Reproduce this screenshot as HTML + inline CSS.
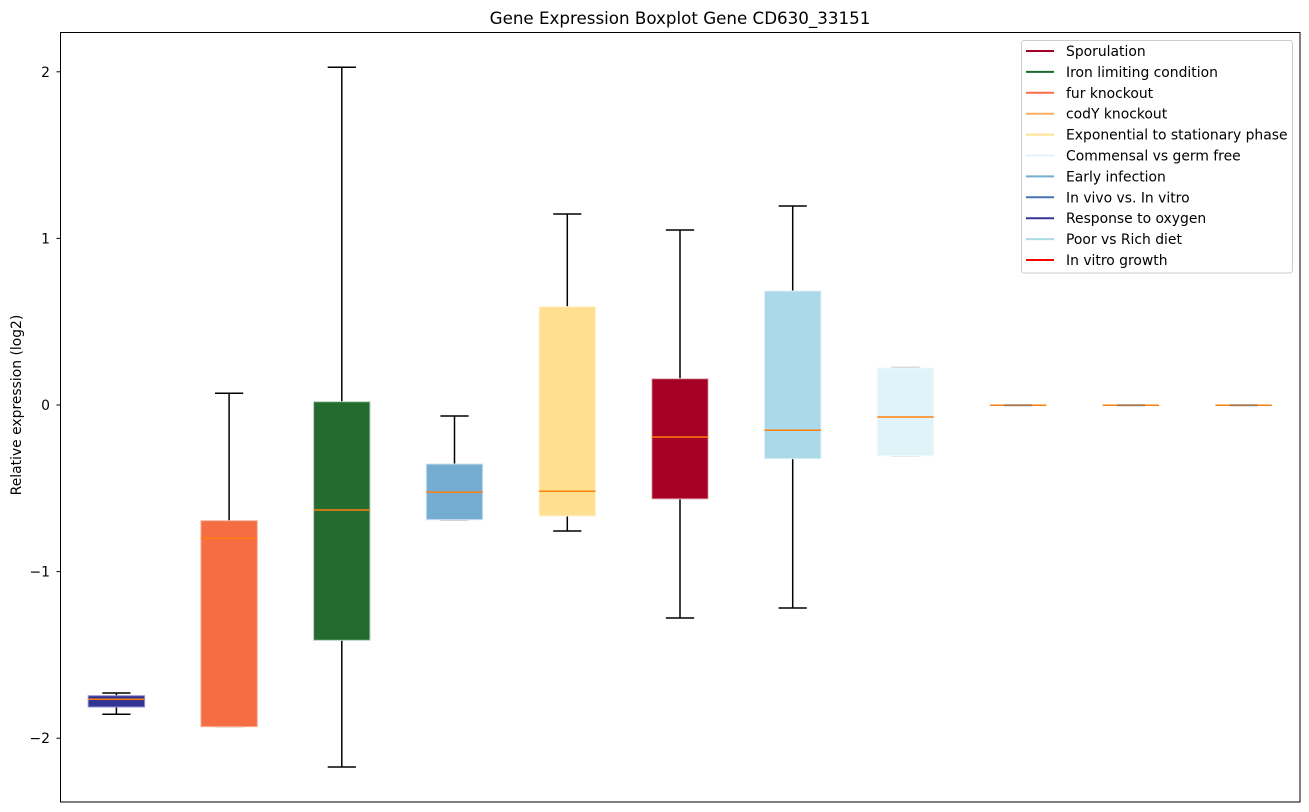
<!DOCTYPE html>
<html><head><meta charset="utf-8"><style>
html,body{margin:0;padding:0;background:#fff;}
svg{display:block;}
text{font-family:"DejaVu Sans","Liberation Sans",sans-serif;fill:#000;}
</style></head><body>
<svg width="1309" height="812" viewBox="0 0 1309 812" xmlns="http://www.w3.org/2000/svg">
<rect width="1309" height="812" fill="#fff"/>
<text x="680" y="24" font-size="16.7" text-anchor="middle">Gene Expression Boxplot Gene CD630_33151</text>

<!-- whiskers (black) -->
<g stroke="#000" stroke-width="1.5" fill="none">
 <!-- box1 -->
 <line x1="116.4" y1="693" x2="116.4" y2="695.7"/><line x1="116.4" y1="707" x2="116.4" y2="714.3"/>
 <line x1="102.3" y1="693" x2="130.5" y2="693"/><line x1="102.3" y1="714.3" x2="130.5" y2="714.3"/>
 <!-- box2 -->
 <line x1="229.1" y1="393.3" x2="229.1" y2="520.7"/>
 <line x1="215" y1="393.3" x2="243.2" y2="393.3"/>
 <!-- box3 -->
 <line x1="341.8" y1="67.3" x2="341.8" y2="401.7"/><line x1="341.8" y1="640.3" x2="341.8" y2="767"/>
 <line x1="327.7" y1="67.3" x2="355.9" y2="67.3"/><line x1="327.7" y1="767" x2="355.9" y2="767"/>
 <!-- box4 -->
 <line x1="454.5" y1="416" x2="454.5" y2="464"/>
 <line x1="440.4" y1="416" x2="468.6" y2="416"/>
 <!-- box5 -->
 <line x1="567.3" y1="214" x2="567.3" y2="306.7"/><line x1="567.3" y1="516" x2="567.3" y2="531"/>
 <line x1="553.2" y1="214" x2="581.4" y2="214"/><line x1="553.2" y1="531" x2="581.4" y2="531"/>
 <!-- box6 -->
 <line x1="680" y1="230" x2="680" y2="378.7"/><line x1="680" y1="499" x2="680" y2="618"/>
 <line x1="665.9" y1="230" x2="694.1" y2="230"/><line x1="665.9" y1="618" x2="694.1" y2="618"/>
 <!-- box7 -->
 <line x1="792.7" y1="206" x2="792.7" y2="291"/><line x1="792.7" y1="458.7" x2="792.7" y2="608"/>
 <line x1="778.6" y1="206" x2="806.8" y2="206"/><line x1="778.6" y1="608" x2="806.8" y2="608"/>
</g>
<!-- grey caps (zero-length whiskers) -->
<g stroke="#bbb" stroke-width="1.5">
 <line x1="215" y1="726.7" x2="243.2" y2="726.7"/>
 <line x1="440.4" y1="520" x2="468.6" y2="520"/>
 <line x1="891.4" y1="367.5" x2="919.6" y2="367.5"/>
 <line x1="891.4" y1="455.8" x2="919.6" y2="455.8"/>
</g>

<!-- boxes -->
<g stroke-width="1">
 <rect x="88.2" y="695.7" width="56.4" height="11.3" fill="#313695" stroke="#8f93d0"/>
 <rect x="200.9" y="520.7" width="56.4" height="206" fill="#f46d43" stroke="#f9b39e"/>
 <rect x="313.6" y="401.7" width="56.4" height="238.6" fill="#236b2e" stroke="#b9d3bd"/>
 <rect x="426.3" y="464" width="56.4" height="55.7" fill="#74add1" stroke="#cfe3f0"/>
 <rect x="539.1" y="306.7" width="56.4" height="209.3" fill="#fee090" stroke="#fff3d3"/>
 <rect x="651.8" y="378.7" width="56.4" height="120.3" fill="#a50026" stroke="#e8b8c2"/>
 <rect x="764.5" y="291" width="56.4" height="167.7" fill="#abd9e9" stroke="#def0f6"/>
 <rect x="877.3" y="368" width="56.4" height="87.7" fill="#e0f3f8" stroke="#f1fafc"/>
</g>

<!-- medians -->
<g stroke="#ff7f0e" stroke-width="1.5">
 <line x1="88.2" y1="699.3" x2="144.6" y2="699.3"/>
 <line x1="200.9" y1="538.3" x2="257.3" y2="538.3"/>
 <line x1="313.6" y1="510" x2="370" y2="510"/>
 <line x1="426.3" y1="492.3" x2="482.7" y2="492.3"/>
 <line x1="539.1" y1="491.3" x2="595.5" y2="491.3"/>
 <line x1="651.8" y1="437" x2="708.2" y2="437"/>
 <line x1="764.5" y1="430.3" x2="820.9" y2="430.3"/>
 <line x1="877.3" y1="417" x2="933.7" y2="417"/>
 <line x1="990" y1="405.2" x2="1046.4" y2="405.2"/>
 <line x1="1102.7" y1="405.2" x2="1159.1" y2="405.2"/>
 <line x1="1215.4" y1="405.2" x2="1271.8" y2="405.2"/>
</g>
<g stroke="#8a7060" stroke-width="2" opacity="0.7">
 <line x1="1004.1" y1="405.2" x2="1032.3" y2="405.2"/>
 <line x1="1116.8" y1="405.2" x2="1145" y2="405.2"/>
 <line x1="1229.5" y1="405.2" x2="1257.7" y2="405.2"/>
</g>

<!-- axes frame -->
<rect x="60.5" y="32.5" width="1239.5" height="769.5" fill="none" stroke="#000" stroke-width="1"/>

<!-- y ticks -->
<g stroke="#000" stroke-width="1">
 <line x1="56.5" y1="71.8" x2="60.5" y2="71.8"/>
 <line x1="56.5" y1="238.4" x2="60.5" y2="238.4"/>
 <line x1="56.5" y1="405" x2="60.5" y2="405"/>
 <line x1="56.5" y1="571.6" x2="60.5" y2="571.6"/>
 <line x1="56.5" y1="738.2" x2="60.5" y2="738.2"/>
</g>
<g font-size="13.9" text-anchor="end">
 <text x="50" y="76.8">2</text>
 <text x="50" y="243.4">1</text>
 <text x="50" y="410">0</text>
 <text x="50" y="576.6">−1</text>
 <text x="50" y="743.2">−2</text>
</g>
<text transform="translate(21,405) rotate(-90)" font-size="13.9" text-anchor="middle">Relative expression (log2)</text>

<!-- legend -->
<rect x="1021.5" y="40.5" width="271" height="232.5" rx="2.5" fill="#fff" fill-opacity="0.8" stroke="#cccccc" stroke-width="1"/>
<g stroke-width="2">
 <line x1="1026" y1="51" x2="1054" y2="51" stroke="#a50026"/>
 <line x1="1026" y1="71.9" x2="1054" y2="71.9" stroke="#1a6b2a"/>
 <line x1="1026" y1="92.8" x2="1054" y2="92.8" stroke="#f46d43"/>
 <line x1="1026" y1="113.7" x2="1054" y2="113.7" stroke="#fdae61"/>
 <line x1="1026" y1="134.6" x2="1054" y2="134.6" stroke="#fee090"/>
 <line x1="1026" y1="155.5" x2="1054" y2="155.5" stroke="#e0f3f8"/>
 <line x1="1026" y1="176.4" x2="1054" y2="176.4" stroke="#74add1"/>
 <line x1="1026" y1="197.3" x2="1054" y2="197.3" stroke="#4575b4"/>
 <line x1="1026" y1="218.2" x2="1054" y2="218.2" stroke="#313695"/>
 <line x1="1026" y1="239.1" x2="1054" y2="239.1" stroke="#abd9e9"/>
 <line x1="1026" y1="260" x2="1054" y2="260" stroke="#ff0000"/>
</g>
<g font-size="13.9">
 <text x="1066" y="56">Sporulation</text>
 <text x="1066" y="76.9">Iron limiting condition</text>
 <text x="1066" y="97.8">fur knockout</text>
 <text x="1066" y="118.7">codY knockout</text>
 <text x="1066" y="139.6">Exponential to stationary phase</text>
 <text x="1066" y="160.5">Commensal vs germ free</text>
 <text x="1066" y="181.4">Early infection</text>
 <text x="1066" y="202.3">In vivo vs. In vitro</text>
 <text x="1066" y="223.2">Response to oxygen</text>
 <text x="1066" y="244.1">Poor vs Rich diet</text>
 <text x="1066" y="265">In vitro growth</text>
</g>
</svg>
</body></html>
